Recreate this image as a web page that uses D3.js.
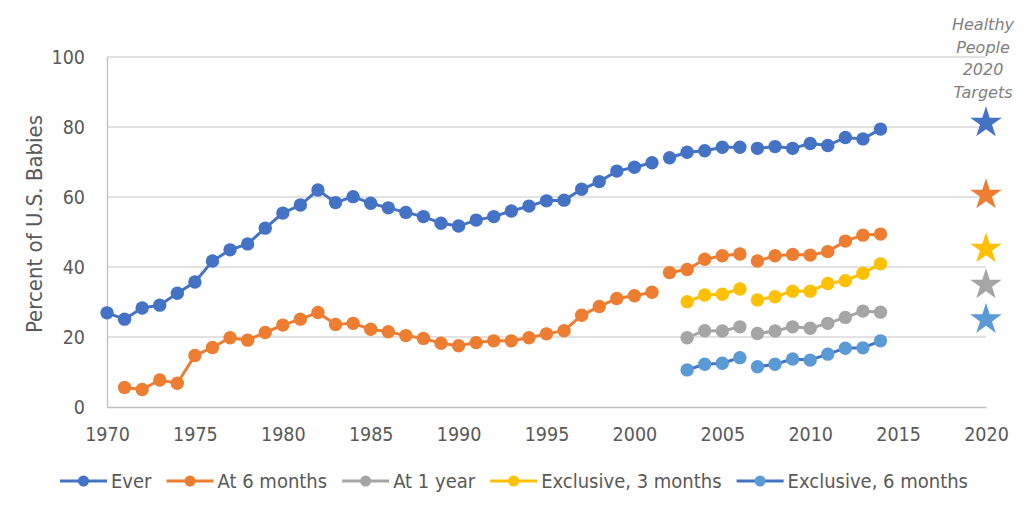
<!DOCTYPE html>
<html>
<head>
<meta charset="utf-8">
<script src="https://cdn.jsdelivr.net/npm/d3@7"></script>
<style>
  body { margin: 0; background: #fff; }
  svg text { font-family: "DejaVu Sans Condensed", "DejaVu Sans", sans-serif; font-stretch: condensed; fill: #595959; }
  svg text.note { font-family: "DejaVu Sans", sans-serif; font-stretch: normal; }
</style>
</head>
<body>
<div id="chart"></div>
<script>
// years + values
var allYears = d3.range(1970, 2015);
var recentYears = d3.range(2003, 2015);
var breakYears = [2002, 2007]; // survey method changes -> line restarts

var ever = [26.9, 25.1, 28.3, 29.1, 32.5, 35.7, 41.7, 44.9, 46.6, 51.1,
  55.4, 57.7, 62.0, 58.4, 60.1, 58.2, 56.9, 55.6, 54.4, 52.5,
  51.7, 53.4, 54.4, 56.0, 57.4, 58.9, 59.1, 62.2, 64.4, 67.4,
  68.5, 69.8, 71.2, 72.8, 73.2, 74.2, 74.2, 73.9, 74.4, 73.9,
  75.3, 74.7, 77.0, 76.6, 79.4];
var sixMonths = [null, 5.6, 5.0, 7.7, 6.8, 14.7, 17.0, 19.8, 19.1, 21.3,
  23.4, 25.1, 27.0, 23.6, 23.9, 22.2, 21.5, 20.4, 19.6, 18.2,
  17.5, 18.4, 18.9, 18.9, 19.8, 20.9, 21.8, 26.2, 28.7, 31.0,
  31.8, 32.8, 38.4, 39.3, 42.2, 43.2, 43.7, 41.7, 43.2, 43.6,
  43.4, 44.4, 47.4, 49.1, 49.4];
var oneYear = [19.8, 21.8, 21.7, 22.9, 21.0, 21.7, 22.9, 22.5, 23.9, 25.6, 27.4, 27.1];
var excl3 = [30.1, 32.0, 32.2, 33.7, 30.6, 31.5, 33.1, 33.1, 35.3, 36.1, 38.2, 40.9];
var excl6 = [10.6, 12.2, 12.5, 14.1, 11.5, 12.2, 13.7, 13.4, 15.1, 16.8, 16.9, 18.9];

var seriesNames = ["Ever", "At 6 months", "At 1 year", "Exclusive, 3 months", "Exclusive, 6 months"];
var targets = [81.2, 60.6, 34.9, 45.2, 25.0];
var targetYear = 2020;
var xTicks = d3.range(1970, 2021, 5);
var yTicks = [0, 20, 40, 60, 80, 100];

var markerColors = ["#4472C4", "#ED7D31", "#A5A5A5", "#FFC000", "#5B9BD5"];
var lineColors = ["#4472C4", "#ED7D31", "#A5A5A5", "#FFC000", "#4472C4"];

var series = [
  { years: allYears, values: ever },
  { years: allYears, values: sixMonths },
  { years: recentYears, values: oneYear },
  { years: recentYears, values: excl3 },
  { years: recentYears, values: excl6 }
].map(function (s, i) {
  return {
    name: seriesNames[i],
    points: s.years.map(function (y, j) { return { year: y, value: s.values[j] }; })
      .filter(function (d) { return d.value != null; })
  };
});

// set the dimensions and margins of the graph
var margin = { top: 57, right: 38, bottom: 99, left: 107 },
  fullW = 1024, fullH = 506,
  width = fullW - margin.left - margin.right,
  height = fullH - margin.top - margin.bottom;

var svg = d3.select("#chart")
  .append("svg")
  .attr("width", fullW)
  .attr("height", fullH);

var g = svg.append("g")
  .attr("transform", "translate(" + margin.left + "," + margin.top + ")");

var x = d3.scaleLinear().domain([1970, 2020]).range([0, width]);
var y = d3.scaleLinear().domain([0, 100]).range([height, 0]);

// gridlines
g.selectAll(".grid")
  .data(yTicks.filter(function (t) { return t > 0; }))
  .enter()
  .append("line")
  .attr("x1", 0).attr("x2", width)
  .attr("y1", function (d) { return y(d); })
  .attr("y2", function (d) { return y(d); })
  .attr("stroke", "#D9D9D9")
  .attr("stroke-width", 1.3);

// axes
var yAxis = g.append("g")
  .call(d3.axisLeft(y).tickValues(yTicks).tickSize(0).tickPadding(22));
var xAxis = g.append("g")
  .attr("transform", "translate(0," + height + ")")
  .call(d3.axisBottom(x).tickValues(xTicks).tickFormat(d3.format("d")).tickSize(0).tickPadding(20));
[yAxis, xAxis].forEach(function (a) {
  a.select(".domain").attr("stroke", "#BFBFBF").attr("stroke-width", 1.3);
  a.selectAll("text").style("font-size", "19.5px").attr("fill", "#595959")
    .style("font-family", null);
});

// y title
svg.append("text")
  .attr("transform", "translate(42,224) rotate(-90)")
  .attr("text-anchor", "middle")
  .style("font-size", "22px")
  .text("Percent of U.S. Babies");

// lines, split at method breaks
var line = d3.line()
  .x(function (d) { return x(d.year); })
  .y(function (d) { return y(d.value); });

function segments(points) {
  return d3.groups(points, function (d) {
    return breakYears.filter(function (b) { return d.year >= b; }).length;
  }).map(function (p) { return p[1]; });
}

series.forEach(function (s, i) {
  var sg = g.append("g");
  sg.selectAll("path")
    .data(segments(s.points))
    .enter()
    .append("path")
    .attr("d", line)
    .attr("fill", "none")
    .attr("stroke", lineColors[i])
    .attr("stroke-width", 3);
  sg.selectAll("circle")
    .data(s.points)
    .enter()
    .append("circle")
    .attr("cx", function (d) { return x(d.year); })
    .attr("cy", function (d) { return y(d.value); })
    .attr("r", 6.7)
    .attr("fill", markerColors[i]);
});

// target stars
var star = d3.symbol().type(d3.symbolStar).size(310);
g.selectAll(".star")
  .data(targets)
  .enter()
  .append("path")
  .attr("d", star)
  .attr("transform", function (d) { return "translate(" + x(targetYear) + "," + y(d) + ")"; })
  .attr("fill", function (d, i) { return markerColors[i]; });

// annotation
var note = svg.append("text")
  .attr("class", "note")
  .attr("text-anchor", "middle")
  .style("font-size", "16px")
  .style("font-style", "italic")
  .style("fill", "#7F7F7F");
["Healthy", "People", "2020", "Targets"].forEach(function (t, i) {
  note.append("tspan").attr("x", 983).attr("y", 30 + i * 22.7).text(t);
});

// legend
var legend = svg.append("g");
var lx = 0;
series.forEach(function (s, i) {
  var item = legend.append("g").attr("transform", "translate(" + lx + ",0)");
  item.append("line")
    .attr("x1", 0).attr("x2", 47)
    .attr("y1", 0).attr("y2", 0)
    .attr("stroke", lineColors[i])
    .attr("stroke-width", 3);
  item.append("circle")
    .attr("cx", 23.5).attr("cy", 0).attr("r", 5.5)
    .attr("fill", markerColors[i]);
  var t = item.append("text")
    .attr("x", 51).attr("y", 7)
    .style("font-size", "20px")
    .text(s.name);
  lx += 51 + t.node().getComputedTextLength() + 15;
});
legend.attr("transform", "translate(" + (514 - (lx - 15) / 2) + ",481)");
</script>
</body>
</html>
